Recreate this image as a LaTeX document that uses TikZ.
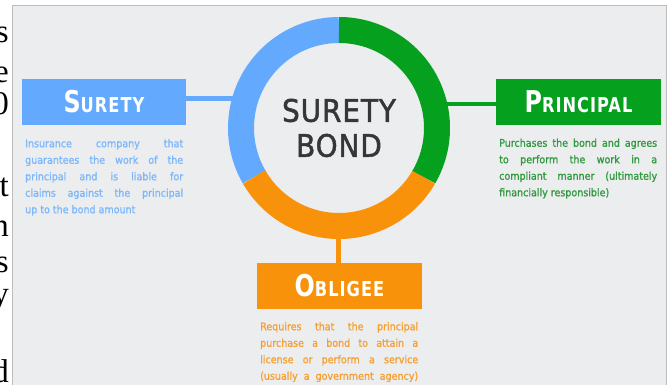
\documentclass[tikz,border=0pt]{standalone}
\usepackage{fontspec}
\setmainfont{Liberation Serif}
\newfontfamily\titlefont[FakeStretch=0.88,LetterSpace=5]{DejaVu Sans Condensed}
\newfontfamily\descfont[FakeBold=1.2]{DejaVu Sans Condensed}
\newfontfamily\bondfont[LetterSpace=3,FakeBold=1.6]{DejaVu Sans Condensed}
\definecolor{panel}{HTML}{ECEDEF}
\definecolor{edge}{HTML}{BDBDBD}
\definecolor{sblue}{HTML}{63A9FE}
\definecolor{sbluetext}{HTML}{7DB7FA}
\definecolor{pgreen}{HTML}{06A01F}
\definecolor{pgreentext}{HTML}{32993F}
\definecolor{oorange}{HTML}{F7920A}
\definecolor{oorangetext}{HTML}{F5A033}
\definecolor{bondtext}{HTML}{363636}
\newcommand{\jline}[1]{\makebox[158pt][s]{#1}}
\tikzset{
  rolebox/.style={rectangle, inner sep=0pt, minimum width=165pt, minimum height=46pt, text=white,
    font=\titlefont\bfseries},
  desc/.style={anchor=north west, inner sep=0pt, align=left,
    font=\descfont\fontsize{10.6}{16.5}\selectfont},
  link/.style={line width=4.5pt},
  band/.style={line width=26pt},
  frag/.style={anchor=base east, inner sep=0pt, font=\fontsize{33}{33}\selectfont, text=black}
}
\newcommand{\bigsc}[2]{\fontsize{30}{30}\selectfont #1\fontsize{20.5}{20.5}\selectfont #2}
\begin{document}
\begin{tikzpicture}[x=1pt,y=1pt]
\useasboundingbox (0,0) rectangle (669,385);
\fill[white] (0,0) rectangle (669,385);
% cropped text fragments at the left margin
\node[frag] (f1) at (9,342) {s};
\node[frag] (f2) at (9,302) {e};
\node[frag] (f3) at (9,270) {0};
\node[frag] (f4) at (9,188) {t};
\node[frag] (f5) at (9,148) {n};
\node[frag] (f6) at (9,112) {s};
\node[frag] (f7) at (9,80) {y};
\node[frag] (f8) at (9,2) {d};
% panel
\fill[panel] (12,0) rectangle (666,380);
\draw[edge, line width=0.8pt] (12,0) -- (12,380) -- (666,380) -- (666,0);
% ring position
\node[circle, minimum size=222pt, inner sep=0pt] (ring) at (339,257) {};
% boxes
\node[rolebox, fill=sblue, minimum width=164pt] (surety) at (104,283) {\bigsc{S}{URETY}};
\node[rolebox, fill=pgreen] (principal) at (578.5,283) {\bigsc{P}{RINCIPAL}};
\node[rolebox, fill=oorange] (obligee) at (339.5,99) {\bigsc{O}{BLIGEE}};
% connector ends inside the band
\coordinate (sj) at (245,286.5);
\coordinate (pj) at (435,281);
\coordinate (oj) at (338.5,160);
\draw[link, sblue] (surety.east |- sj) -- (sj);
\draw[link, pgreen] (principal.west |- pj) -- (pj);
\draw[link, oorange] (obligee.north -| oj) -- (oj);
% ring
\draw[band, sblue] (ring.center) ++(90:98) arc[start angle=90, end angle=210, radius=98];
\draw[band, oorange] (ring.center) ++(210:98) arc[start angle=210, end angle=330, radius=98];
\draw[band, pgreen] (ring.center) ++(330:98) arc[start angle=330, end angle=450, radius=98];
\node[align=center, text=bondtext, font=\bondfont\fontsize{31}{35}\selectfont, inner sep=0pt] (bond) at (ring.center) {SURETY\\BOND};
% descriptions
\node[desc, text=sbluetext] (sdesc) at (25,246) {\jline{Insurance company that}\\
\jline{guarantees the work of the}\\
\jline{principal and is liable for}\\
\jline{claims against the principal}\\
up to the bond amount};
\node[desc, text=pgreentext] (pdesc) at (499,246.5) {\jline{Purchases the bond and agrees}\\
\jline{to perform the work in a}\\
\jline{compliant manner (ultimately}\\
financially responsible)};
\node[desc, text=oorangetext] (odesc) at (260,63) {\jline{Requires that the principal}\\
\jline{purchase a bond to attain a}\\
\jline{license or perform a service}\\
\jline{(usually a government agency)}};
\end{tikzpicture}
\end{document}
